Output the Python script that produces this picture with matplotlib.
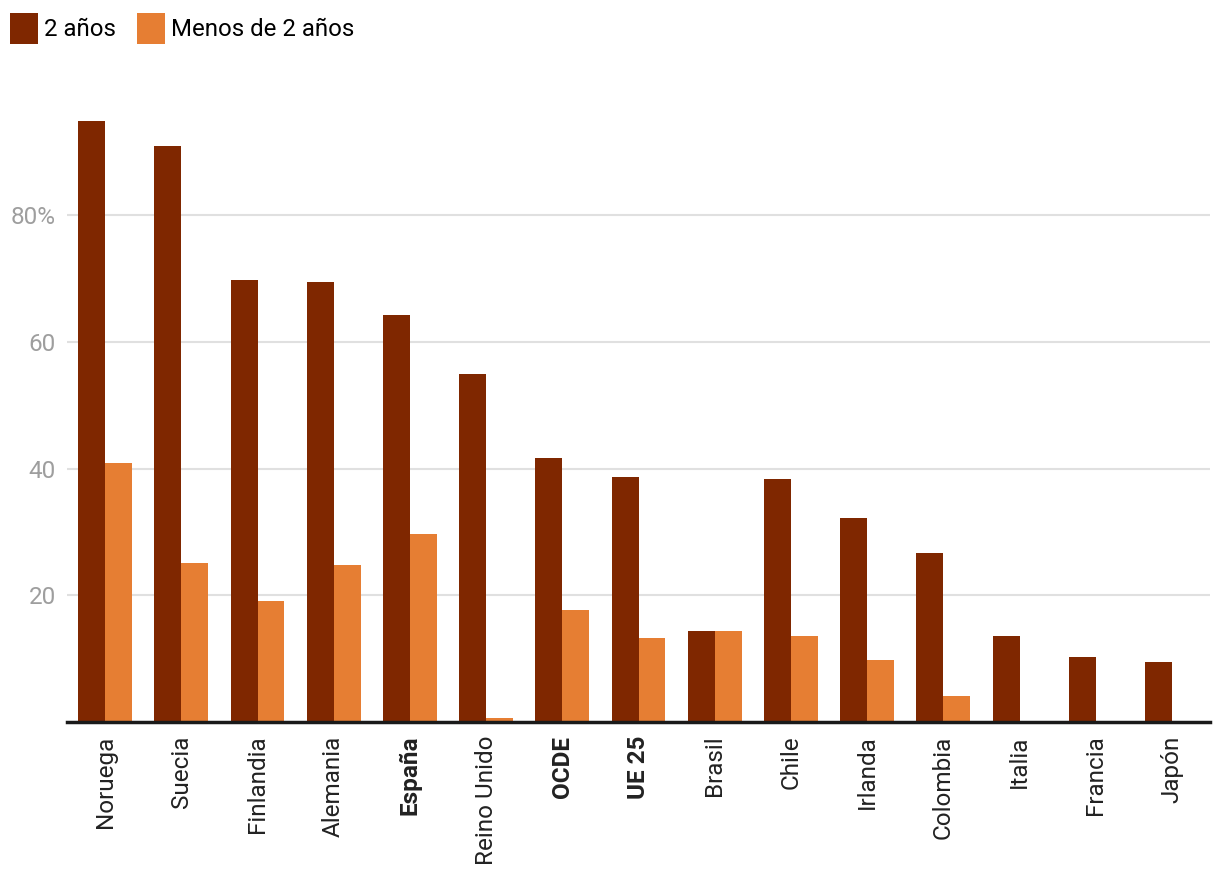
import numpy as np
import matplotlib.pyplot as plt

plt.rcParams['font.family'] = ['Roboto', 'DejaVu Sans']

paises = ['Noruega', 'Suecia', 'Finlandia', 'Alemania', 'España', 'Reino Unido',
          'OCDE', 'UE 25', 'Brasil', 'Chile', 'Irlanda', 'Colombia', 'Italia',
          'Francia', 'Japón']
dos_anos = [94.9, 91.0, 69.7, 69.5, 64.2, 55.0, 41.7, 38.6, 14.3, 38.4, 32.2, 26.7, 13.6, 10.2, 9.4]
menos_dos = [40.9, 25.0, 19.0, 24.7, 29.7, 0.6, 17.6, 13.3, 14.3, 13.5, 9.8, 4.0, 0, 0, 0]
negrita = ['España', 'OCDE', 'UE 25']

c_dark = '#7f2700'
c_orange = '#e67e33'

fig = plt.figure(figsize=(12.2, 8.82), dpi=100)
ax = fig.add_axes([67/1220, 1-721.7/882, (1210-67)/1220, 633/882])

x = np.arange(len(paises))
w = 0.354
ax.bar(x - w/2, dos_anos, w, color=c_dark, label='2 años', zorder=3)
ax.bar(x + w/2, menos_dos, w, color=c_orange, label='Menos de 2 años', zorder=3)

ax.set_xlim(-0.5, len(paises) - 0.5)
ax.set_ylim(0, 100)
ax.set_yticks([20, 40, 60, 80])
ax.set_yticklabels(['20', '40', '60', '80%'])
ax.grid(axis='y', color='#e0e0e0', linewidth=1.5, zorder=0)
ax.tick_params(axis='y', length=0, pad=8, labelsize=17.5, labelcolor='#9e9e9e')
ax.tick_params(axis='x', length=0, pad=10, labelsize=17.5, labelcolor='#222222')
ax.set_xticks(x)
ax.set_xticklabels(paises, rotation=90, va='top', ha='center')
for lbl in ax.get_xticklabels():
    if lbl.get_text() in negrita:
        lbl.set_fontweight('bold')

for s in ['top', 'right', 'left']:
    ax.spines[s].set_visible(False)
ax.spines['bottom'].set_color('#1a1a1a')
ax.spines['bottom'].set_linewidth(2.5)
ax.spines['bottom'].set_zorder(4)

fig.legend(loc='upper left', bbox_to_anchor=(10/1220, 1-13/882), ncol=2, frameon=False,
           fontsize=17.3, handlelength=1.16, handleheight=1.6, handletextpad=0.25,
           columnspacing=0.87, borderaxespad=0, borderpad=0)

fig.savefig('out.png', dpi=100)
